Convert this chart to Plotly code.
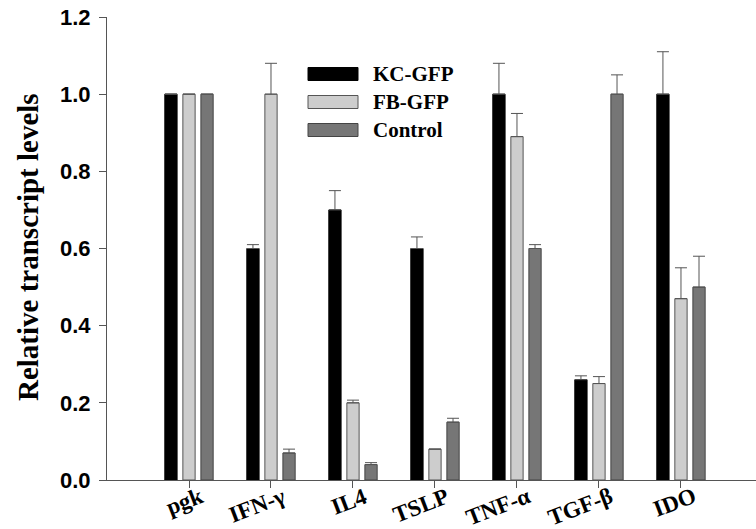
import plotly.graph_objects as go

categories = ["pgk", "IFN-γ", "IL4", "TSLP", "TNF-α", "TGF-β", "IDO"]
series_names = ["KC-GFP", "FB-GFP", "Control"]
kc_vals = [1.0, 0.60, 0.70, 0.60, 1.00, 0.26, 1.00]
kc_err = [0.0, 0.01, 0.05, 0.03, 0.08, 0.01, 0.11]
fb_vals = [1.0, 1.00, 0.20, 0.08, 0.89, 0.25, 0.47]
fb_err = [0.0, 0.08, 0.007, 0.0, 0.06, 0.018, 0.08]
ctrl_vals = [1.0, 0.07, 0.04, 0.15, 0.60, 1.00, 0.50]
ctrl_err = [0.0, 0.01, 0.005, 0.01, 0.01, 0.05, 0.08]
y_ticks = [0.0, 0.2, 0.4, 0.6, 0.8, 1.0, 1.2]

fills = ["#000000", "#cdcdcd", "#767676"]
outlines = ["#000000", "#555555", "#444444"]

W, H = 756, 529
ML, MR, MT, MB = 107, 0, 17, 49
PW, PH = W - ML - MR, H - MT - MB

fig = go.Figure()
xs = list(range(len(categories)))
for name, vals, errs, fc, lc in zip(series_names, [kc_vals, fb_vals, ctrl_vals],
                                     [kc_err, fb_err, ctrl_err], fills, outlines):
    fig.add_trace(go.Bar(
        x=xs, y=vals, name=name,
        marker=dict(color=fc, line=dict(color=lc, width=1)),
        error_y=dict(type="data", symmetric=False, array=errs,
                     arrayminus=[0] * len(errs), color="#555555",
                     thickness=1, width=6, visible=True),
        showlegend=False,
    ))

# helpers: pixel -> paper coords
def px_x(p):
    return (p - ML) / PW

def px_y(p):
    return (H - MB - p) / PH

legend_rows = [74, 102, 130]
for name, fc, lc, cy in zip(series_names, fills, outlines, legend_rows):
    fig.add_shape(type="rect", xref="paper", yref="paper",
                  x0=px_x(308), x1=px_x(358), y0=px_y(cy + 6.5), y1=px_y(cy - 6.5),
                  fillcolor=fc, line=dict(color=lc, width=1))
    fig.add_annotation(xref="paper", yref="paper", x=px_x(371), y=px_y(cy),
                       text="<b>%s</b>" % name, showarrow=False, xanchor="left",
                       yanchor="middle",
                       font=dict(family="Liberation Serif", size=21, color="#000"))

# Rotated category labels (right end just right of the tick)
for i, c in enumerate(categories):
    fig.add_annotation(xref="x", yref="paper", x=i, y=px_y(482), xshift=19,
                       text="<b>%s</b>" % c, showarrow=False, textangle=-21,
                       xanchor="right", yanchor="top", borderpad=0,
                       font=dict(family="Liberation Serif", size=23, color="#000"))

# y-axis title
fig.add_annotation(xref="paper", yref="paper", x=px_x(28), y=px_y(247),
                   text="<b>Relative transcript levels</b>", showarrow=False,
                   textangle=-90, xanchor="center", yanchor="middle",
                   font=dict(family="Liberation Serif", size=29, color="#000"))

fig.update_layout(
    width=W, height=H,
    margin=dict(l=ML, r=MR, t=MT, b=MB, pad=0),
    paper_bgcolor="white", plot_bgcolor="white",
    barmode="group", bargap=0.34, bargroupgap=0.32,
    font=dict(family="Liberation Serif", color="#000"),
)
fig.update_xaxes(range=[-1.0, 6.915], showticklabels=False, tickmode="array",
                 tickvals=xs, ticks="outside", ticklen=7, tickcolor="#555",
                 showline=True, linecolor="#555", linewidth=1,
                 showgrid=False, zeroline=False)
fig.update_yaxes(range=[0, 1.2], tickmode="array", tickvals=y_ticks,
                 ticktext=["%.1f" % v for v in y_ticks],
                 ticks="outside", ticklen=7, tickcolor="#555", ticklabelstandoff=4,
                 tickfont=dict(family="Liberation Sans", size=22, color="#000", weight="bold"),
                 showline=True, linecolor="#555", linewidth=1,
                 showgrid=False, zeroline=False)

fig.write_html("out.html", config={"displayModeBar": False},
               post_script="document.body.style.margin='0';"
                           "document.body.style.overflow='hidden';")
